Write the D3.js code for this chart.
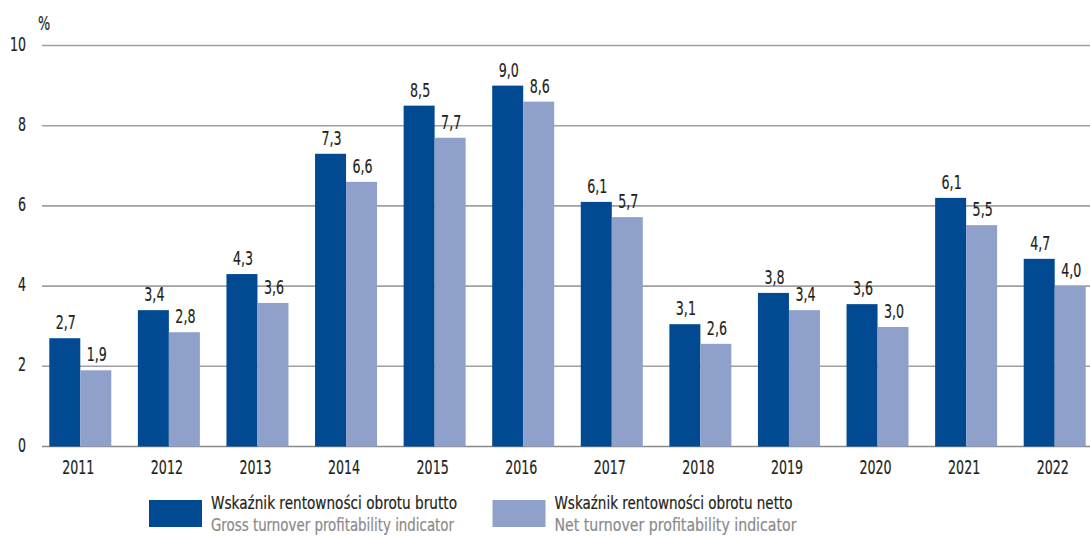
<!DOCTYPE html>
<html>
  <head>
    <meta charset="UTF-8">
    <title>Wskaźnik rentowności obrotu</title>
    <style>
      body { margin: 0; background: #fff; }
      svg text { font-family: "DejaVu Sans Condensed", "DejaVu Sans", sans-serif; font-stretch: condensed; fill: #231f20; stroke: #231f20; stroke-width: 0.2px; }
      svg text.sub { fill: #8a8a8a; stroke: #8a8a8a; }
    </style>
  </head>
  <body>
    <div id="chart"></div>
    <script src="https://d3js.org/d3.v7.min.js"></script>
    <script>

// data
var years = ["2011","2012","2013","2014","2015","2016","2017","2018","2019","2020","2021","2022"];
var brutto = [2.7, 3.4, 4.3, 7.3, 8.5, 9.0, 6.1, 3.05, 3.83, 3.55, 6.2, 4.68];
var netto  = [1.9, 2.85, 3.58, 6.6, 7.7, 8.6, 5.72, 2.56, 3.4, 2.98, 5.52, 4.0];
var bruttoLabels = ["2,7","3,4","4,3","7,3","8,5","9,0","6,1","3,1","3,8","3,6","6,1","4,7"];
var nettoLabels  = ["1,9","2,8","3,6","6,6","7,7","8,6","5,7","2,6","3,4","3,0","5,5","4,0"];
var yTicks = [0, 2, 4, 6, 8, 10];

var series = [
  {key: "brutto", values: brutto, labels: bruttoLabels, color: "#014a92",
   pl: "Wskaźnik rentowności obrotu brutto", en: "Gross turnover profitability indicator"},
  {key: "netto", values: netto, labels: nettoLabels, color: "#8fa1cb",
   pl: "Wskaźnik rentowności obrotu netto", en: "Net turnover profitability indicator"}
];

var width = 1090, height = 536;

// text is squeezed horizontally so it looks like the narrow font of the original
function narrowText(sel, x, y, sx) {
  sel.attr("transform", function(d, i){
    return "translate(" + x(d, i) + "," + y(d, i) + ") scale(" + sx + ",1)";
  });
}

var svg = d3.select("#chart").append("svg")
    .attr("width", width)
    .attr("height", height);

var y = d3.scaleLinear().domain([0, 10]).range([446.5, 45.5]);

var x0 = d3.scaleBand().domain(years).range([36, 1099])
    .paddingInner(0.3).paddingOuter(0.15);

var x1 = d3.scaleBand().domain(series.map(function(s){ return s.key; }))
    .range([0, x0.bandwidth()]);

// gridlines
svg.append("g").selectAll("line")
    .data(yTicks)
  .enter().append("line")
    .attr("x1", 42).attr("x2", width)
    .attr("y1", function(d){ return y(d); })
    .attr("y2", function(d){ return y(d); })
    .attr("stroke", function(d){ return d === 0 ? "#8a8a8a" : "#a0a0a0"; })
    .attr("stroke-width", 1.6);

// y tick labels
svg.append("g").selectAll("text")
    .data(yTicks)
  .enter().append("text")
    .attr("text-anchor", "end")
    .attr("dy", "0.36em")
    .style("font-size", "19.5px")
    .text(function(d){ return d; })
    .call(narrowText, function(){ return 26; }, function(d){ return y(d) - 2; }, 0.72);

svg.append("text")
    .style("font-size", "19px")
    .text("%")
    .call(narrowText, function(){ return 38; }, function(){ return 30; }, 0.75);

// bars
var groups = svg.append("g").selectAll("g")
    .data(years)
  .enter().append("g")
    .attr("transform", function(d){ return "translate(" + x0(d) + ",0)"; });

series.forEach(function(s){
  groups.append("rect")
      .attr("x", x1(s.key))
      .attr("width", x1.bandwidth())
      .attr("y", function(d, i){ return y(s.values[i]); })
      .attr("height", function(d, i){ return y(0) - y(s.values[i]); })
      .attr("fill", s.color);

  groups.append("text")
      .attr("text-anchor", "middle")
      .style("font-size", "19px")
      .text(function(d, i){ return s.labels[i]; })
      .call(narrowText,
        function(){ return x1(s.key) + x1.bandwidth() / 2 + 1; },
        function(d, i){ return y(s.values[i]) - 9; }, 0.74);
});

// x labels
svg.append("g").selectAll("text")
    .data(years)
  .enter().append("text")
    .attr("text-anchor", "middle")
    .style("font-size", "19.5px")
    .text(function(d){ return d; })
    .call(narrowText, function(d){ return x0(d) + x0.bandwidth() / 2 - 2; }, function(){ return 474; }, 0.72);

// legend
var legendX = [149, 492.5];
var legendWidths = [[246, 243], [238, 242]];

var legend = svg.append("g").selectAll("g")
    .data(series)
  .enter().append("g")
    .attr("transform", function(d, i){ return "translate(" + legendX[i] + ",500)"; });

legend.append("rect")
    .attr("width", 53).attr("height", 27)
    .attr("fill", function(d){ return d.color; });

legend.append("text")
    .attr("x", 62).attr("y", 8.7)
    .attr("textLength", function(d, i){ return legendWidths[i][0]; })
    .attr("lengthAdjust", "spacingAndGlyphs")
    .style("font-size", "17.5px")
    .text(function(d){ return d.pl; });

legend.append("text")
    .attr("class", "sub")
    .attr("x", 62).attr("y", 30.7)
    .attr("textLength", function(d, i){ return legendWidths[i][1]; })
    .attr("lengthAdjust", "spacingAndGlyphs")
    .style("font-size", "17.5px")
    .text(function(d){ return d.en; });

    </script>
  </body>
</html>
